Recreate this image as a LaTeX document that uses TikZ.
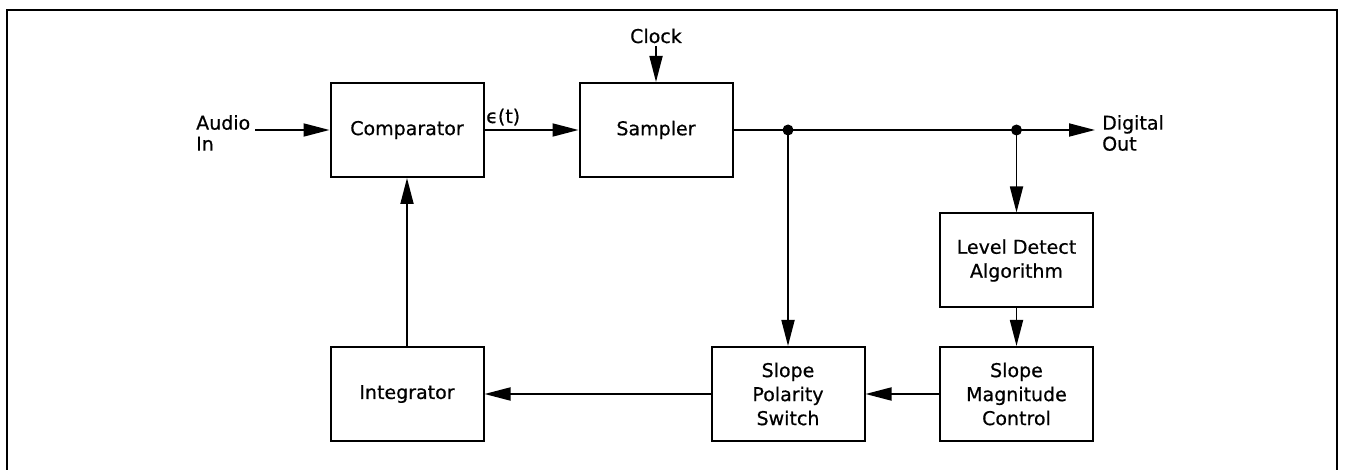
\documentclass[tikz,border=0pt]{standalone}
\usepackage{fontspec}
\setmainfont[FakeBold=0.6]{DejaVu Sans}
\usetikzlibrary{arrows.meta}
\begin{document}
\begin{tikzpicture}[x=1pt,y=-1pt,
  blk/.style={draw,line width=2pt,minimum width=153pt,minimum height=94pt,inner sep=0pt,align=center,font=\fontsize{19}{24}\selectfont},
  lbl/.style={font=\fontsize{19}{21}\selectfont,align=left,inner sep=0pt},
  wire/.style={line width=1.8pt},
  arr/.style={wire,-{Triangle[length=26pt,width=13pt]}},
  jdot/.style={circle,fill,inner sep=0pt,minimum size=11pt}]
\useasboundingbox (0,0) rectangle (1347,470);
\draw[line width=2.2pt] (7,470) -- (7,10) -- (1337,10) -- (1337,470);

\node[blk] (comp) at (407,130) {Comparator};
\node[blk] (samp) at (656,130) {Sampler};
\node[blk] (lda) at (1016.5,260.5) {Level Detect\\Algorithm};
\node[blk] (smc) at (1016.5,394) {Slope\\Magnitude\\Control};
\node[blk] (sps) at (788,394) {Slope\\Polarity\\Switch};
\node[blk] (integ) at (407,394) {Integrator};

\node[jdot] (j1) at (788,130) {};
\node[jdot] (j2) at (1016.5,130) {};
\coordinate (ain) at (255,130);
\coordinate (dout) at (1095,130);
\coordinate (clk) at (656,46);

\node[lbl,anchor=north west] (audio) at (196,115) {Audio\\In};
\node[lbl,anchor=north west] (digital) at (1102,115) {Digital\\Out};
\node[lbl,anchor=base] (clock) at (656,43) {Clock};
\node[lbl,anchor=base west] (eps) at (486,123) {ϵ(t)};

\draw[arr] (ain) -- (comp.west);
\draw[arr] (comp.east) -- (samp.west);
\draw[arr] (clk) -- (samp.north);
\draw[wire] (samp.east) -- (j1.center) -- (j2.center);
\draw[arr] (j2.center) -- (dout);
\draw[arr] (j1.center) -- (sps.north);
\draw[arr] (j2.center) -- (lda.north);
\draw[arr] (lda.south) -- (smc.north);
\draw[arr] (smc.west) -- (sps.east);
\draw[arr] (sps.west) -- (integ.east);
\draw[arr] (integ.north) -- (comp.south);
\end{tikzpicture}
\end{document}
